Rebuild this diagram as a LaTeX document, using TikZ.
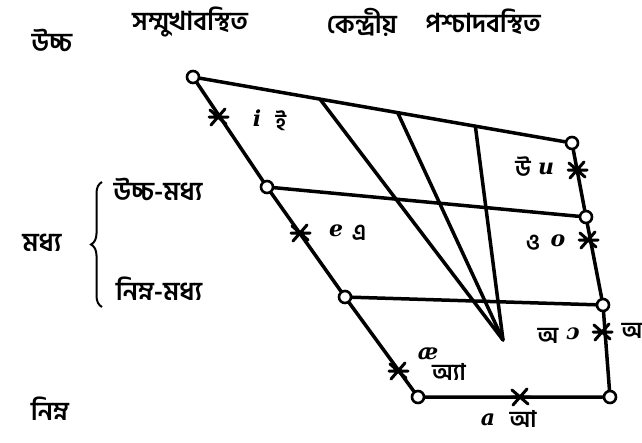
\documentclass[tikz,border=0pt]{standalone}
\usepackage{fontspec}
\newfontfamily\bnfont[Script=Bengali]{Hind Siliguri}
\newfontfamily\ipafont{DejaVu Serif}
\usetikzlibrary{calc,decorations.pathreplacing}

\tikzset{
  side/.style={line width=3.5pt,line cap=round,line join=round},
  vtx/.style={circle,draw,fill=white,line width=2.6pt,inner sep=0pt,minimum size=12pt},
  bn/.style={font=\bnfont\bfseries\fontsize{26}{30}\selectfont,inner sep=0pt},
  bnv/.style={font=\bnfont\bfseries\fontsize{23}{26}\selectfont,inner sep=0pt},
  ipa/.style={font=\ipafont\bfseries\itshape\fontsize{22}{24}\selectfont,inner sep=0pt},
  starmark/.pic={\draw[line width=3pt,line cap=round] (-8,-7) -- (8,7) (-7,8) -- (7,-8) (-9,0) -- (10,0);}
}

\begin{document}
\begin{tikzpicture}[x=1pt,y=-1pt]
  \useasboundingbox (0,0) rectangle (642,442);
  % corner points of the chart
  \node[vtx] (hf)  at (193,77)  {};
  \node[vtx] (hb)  at (572,143) {};
  \node[vtx] (hmf) at (267,187) {};
  \node[vtx] (hmb) at (586,217) {};
  \node[vtx] (lmf) at (345,297) {};
  \node[vtx] (lmb) at (603,305) {};
  \node[vtx] (lf)  at (418,397) {};
  \node[vtx] (lb)  at (610,397) {};
  \coordinate (cn) at (503,340);
  \coordinate (t1) at ($(hf)!0.335!(hb)$);
  \coordinate (t2) at ($(hf)!0.54!(hb)$);
  \coordinate (t3) at ($(hf)!0.745!(hb)$);

  % outline and levels
  \draw[side] (hf) -- (hmf) -- (lmf) -- (lf) -- (lb) -- (lmb) -- (hmb) -- (hb) -- (hf);
  \draw[side] (hmf) -- (hmb);
  \draw[side] (lmf) -- (lmb);
  % central lines
  \foreach \t in {t1,t2,t3}
    \draw[side] (\t) -- (cn);

  % vowel marks
  \foreach \p in {(218,117),(300,233),(398,371),(520,397),(602,332),(588,240),(577,170)}
    \pic at \p {starmark};

  % vowels
  \node[ipa] (vi)  at (257,118) {i};
  \node[bnv] (bi)  at (281,121) {ই};
  \node[ipa] (ve)  at (336,231) {e};
  \node[bnv] (be)  at (359,233) {এ};
  \node[ipa] (vae) at (428,354) {æ};
  \node[bnv] (bae) at (449,372) {অ্যা};
  \node[ipa] (va)  at (488,420) {a};
  \node[bnv] (ba)  at (523,419) {আ};
  \node[bnv] (bo1) at (548,336) {অ};
  \node[ipa] (vo1) at (573,334) {ɔ};
  \node[bnv] (bo1x) at (632,331) {অ};
  \node[bnv] (bo)  at (533,243) {ও};
  \node[ipa] (vo)  at (558,241) {o};
  \node[bnv] (bu)  at (523,167) {উ};
  \node[ipa] (vu)  at (546,169) {u};

  % column and row heads
  \node[bn] (front)  at (190,22)  {সম্মুখাবস্থিত};
  \node[bn] (centre) at (362,22)  {কেন্দ্রীয়};
  \node[bn] (back)   at (483,22)  {পশ্চাদবস্থিত};
  \node[bn] (high)   at (52,40)   {উচ্চ};
  \node[bn] (mid)    at (42,243)  {মধ্য};
  \node[bn] (hmid)   at (158,189) {উচ্চ-মধ্য};
  \node[bn] (lmid)   at (159,289) {নিম্ন-মধ্য};
  \node[bn] (low)    at (50,409)  {নিম্ন};
  \draw[line width=2pt,decorate,decoration={brace,amplitude=11pt}]
    (102,307) -- (102,182);
\end{tikzpicture}
\end{document}
